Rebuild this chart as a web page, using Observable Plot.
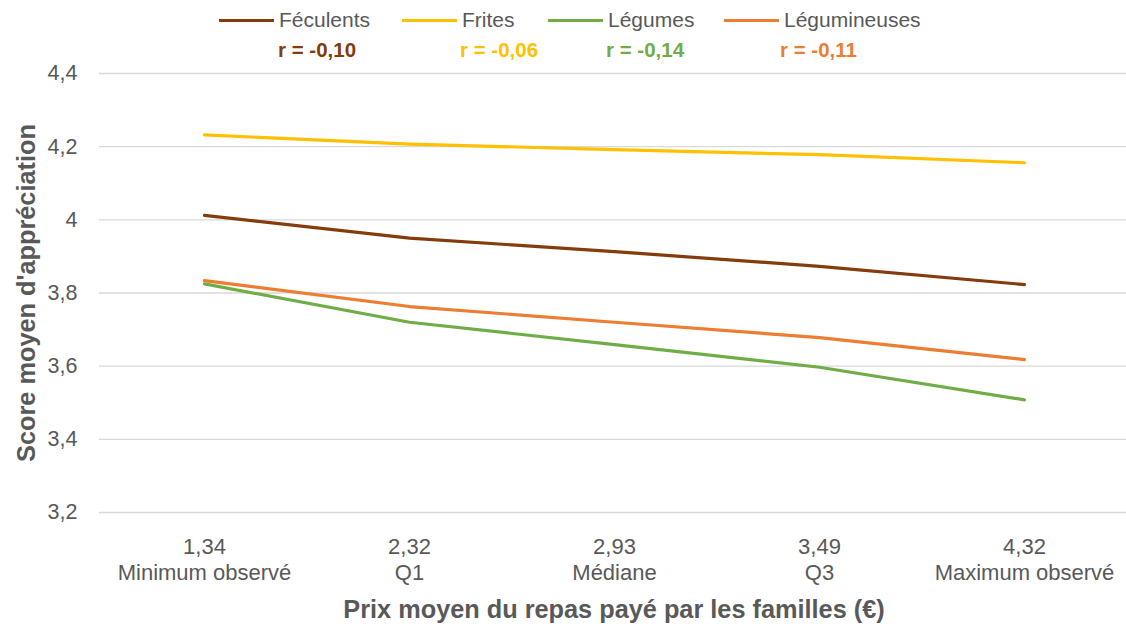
<!DOCTYPE html>
<html>
<head>
<meta charset="utf-8">
<script src="https://cdn.jsdelivr.net/npm/d3@7"></script>
<script src="https://cdn.jsdelivr.net/npm/@observablehq/plot@0.6"></script>
<style>
  html, body { margin: 0; padding: 0; background: #fff; }
  body { width: 1126px; height: 629px; overflow: hidden; position: relative; font-family: "Liberation Sans", Arial, sans-serif; }
  #legend { position: absolute; left: 0; top: 0; height: 65px; width: 1126px; z-index: 2; }
  .item { position: absolute; top: 7px; display: flex; align-items: center; font-size: 21px; line-height: 26px; color: #595959; }
  .sw { width: 55px; height: 3px; margin-right: 5px; }
  .r { position: absolute; top: 37px; font-size: 20.5px; line-height: 26px; font-weight: bold; }
  svg { display: block; }
</style>
</head>
<body>
<div id="chart"></div>
<div id="legend"></div>
<script>
const categories = ["1,34", "2,32", "2,93", "3,49", "4,32"];
const categoryLabels = ["Minimum observé", "Q1", "Médiane", "Q3", "Maximum observé"];
const seriesNames = ["Féculents", "Frites", "Légumes", "Légumineuses"];
const feculents = [4.012, 3.950, 3.913, 3.873, 3.823];
const frites = [4.232, 4.207, 4.192, 4.178, 4.156];
const legumes = [3.825, 3.720, 3.659, 3.597, 3.508];
const legumineuses = [3.834, 3.763, 3.720, 3.678, 3.618];
const correlations = ["r = -0,10", "r = -0,06", "r = -0,14", "r = -0,11"];
const colors = ["#843C0C", "#FFC000", "#70AD47", "#ED7D31"];
const yTicks = [3.2, 3.4, 3.6, 3.8, 4.0, 4.2, 4.4];

const seriesValues = [feculents, frites, legumes, legumineuses];
const data = [];
seriesNames.forEach((s, i) => categories.forEach((c, j) => data.push({serie: s, cat: c, value: seriesValues[i][j]})));

// legend
const legendLeft = [219, 402, 548, 724];
const rLeft = [278, 460, 606, 780];
const legend = document.getElementById("legend");
seriesNames.forEach((s, i) => {
  const it = document.createElement("div");
  it.className = "item";
  it.style.left = legendLeft[i] + "px";
  it.innerHTML = `<span class="sw" style="background:${colors[i]}"></span><span>${s}</span>`;
  legend.appendChild(it);
  const r = document.createElement("div");
  r.className = "r";
  r.style.left = rLeft[i] + "px";
  r.style.color = colors[i];
  r.textContent = correlations[i];
  legend.appendChild(r);
});

const fmt = d => String(d).replace(".", ",");
const chart = Plot.plot({
  width: 1126,
  height: 629,
  marginLeft: 99,
  marginRight: -2,
  marginTop: 73,
  marginBottom: 117,
  style: {fontFamily: "'Liberation Sans', Arial, sans-serif", color: "#595959", background: "#fff", overflow: "visible"},
  x: {type: "point", domain: categories, padding: 0.5},
  y: {domain: [3.2, 4.4]},
  color: {domain: seriesNames, range: colors},
  marks: [
    Plot.gridY(yTicks, {stroke: "#d9d9d9", strokeOpacity: 1, strokeWidth: 1.3}),
    Plot.axisY(yTicks, {tickSize: 0, tickPadding: 22, fontSize: 21.5, tickFormat: fmt,
      label: "Score moyen d'appréciation", labelAnchor: "center", labelArrow: "none", labelOffset: 82}),
    Plot.axisX({tickSize: 0, tickPadding: 22, fontSize: 22, lineHeight: 1.22,
      tickFormat: d => d + "\n" + categoryLabels[categories.indexOf(d)],
      label: "Prix moyen du repas payé par les familles (€)", labelAnchor: "center", labelArrow: "none", labelOffset: 105}),
    Plot.line(data, {x: "cat", y: "value", stroke: "serie", z: "serie", strokeWidth: 3.2, strokeLinecap: "round", strokeLinejoin: "round"})
  ]
});
document.getElementById("chart").appendChild(chart);
d3.select(chart).selectAll("[aria-label='y-axis label'] text, [aria-label='x-axis label'] text")
  .style("font-size", "25.3px").style("font-weight", "bold").style("fill", "#595959");
</script>
</body>
</html>
